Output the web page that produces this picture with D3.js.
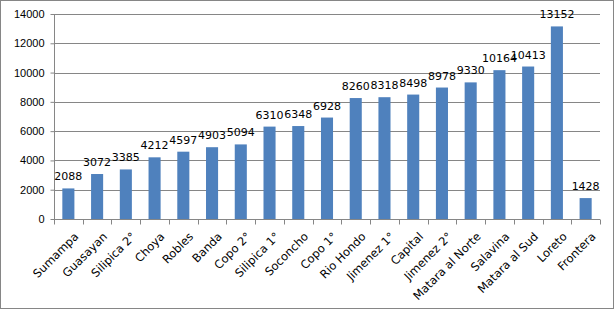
<!DOCTYPE html>
<meta charset="utf-8">
<style>
  body { margin: 0; background: #fff; }
  svg { font-family: "DejaVu Sans", Verdana, sans-serif; }
  .axis text { font-size: 11px; fill: #000; }
  .axis .domain, .axis line { stroke: #868686; }
</style>
<body>
<div id="chart"></div>
<script src="https://d3js.org/d3.v7.min.js"></script>
<script>
  var categories = ['Sumampa', 'Guasayan', 'Silipica 2°', 'Choya', 'Robles', 'Banda', 'Copo 2°',
    'Silipica 1°', 'Soconcho', 'Copo 1°', 'Rio Hondo', 'Jimenez 1°', 'Capital', 'Jimenez 2°',
    'Matara al Norte', 'Salavina', 'Matara al Sud', 'Loreto', 'Frontera'];
  var values = [2088, 3072, 3385, 4212, 4597, 4903, 5094, 6310, 6348, 6928, 8260, 8318, 8498,
    8978, 9330, 10164, 10413, 13152, 1428];
  var yTicks = [0, 2000, 4000, 6000, 8000, 10000, 12000, 14000];

  var W = 614, H = 309;
  var margin = { top: 14, right: 14, bottom: 90, left: 54 };
  var width = W - margin.left - margin.right;
  var height = H - margin.top - margin.bottom;

  var svg = d3.select("#chart").append("svg")
    .attr("width", W)
    .attr("height", H);

  // outer frame
  svg.append("rect")
    .attr("x", 0.5).attr("y", 0.5)
    .attr("width", W - 1).attr("height", H - 1)
    .attr("fill", "none")
    .attr("stroke", "#868686");

  var g = svg.append("g")
    .attr("transform", "translate(" + margin.left + "," + margin.top + ")");

  var x = d3.scaleBand()
    .domain(categories)
    .range([0, width])
    .paddingInner(0.58)
    .paddingOuter(0.29);

  var y = d3.scaleLinear()
    .domain([0, 14000])
    .range([height, 0]);

  // gridlines
  g.append("g")
    .selectAll("line")
    .data(yTicks.slice(1))
    .enter()
    .append("line")
    .attr("x1", 0)
    .attr("x2", width)
    .attr("y1", d => Math.round(y(d)) + 0.5)
    .attr("y2", d => Math.round(y(d)) + 0.5)
    .attr("stroke", "#868686");

  var yAxis = d3.axisLeft(y)
    .tickValues(yTicks)
    .tickSize(4)
    .tickPadding(6)
    .tickFormat(d3.format("d"));

  g.append("g")
    .attr("class", "axis")
    .attr("transform", "translate(0.5,0)")
    .call(yAxis)
    .call(s => s.select(".domain").attr("d", "M0,0V" + height));

  // bars
  g.selectAll(".bar")
    .data(values)
    .enter()
    .append("rect")
    .attr("class", "bar")
    .attr("x", (d, i) => x(categories[i]))
    .attr("width", x.bandwidth())
    .attr("y", d => y(d))
    .attr("height", d => height - y(d))
    .attr("fill", "#4F81BD");

  // value labels
  g.selectAll(".val")
    .data(values)
    .enter()
    .append("text")
    .attr("class", "val")
    .attr("x", (d, i) => x(categories[i]) + x.bandwidth() / 2)
    .attr("y", d => y(d) - 8)
    .attr("text-anchor", "middle")
    .style("font-size", "11px")
    .text(d => d);

  // x axis with ticks between categories
  var step = x.step();
  var xg = g.append("g")
    .attr("class", "axis")
    .attr("transform", "translate(0," + (Math.round(height) + 0.5) + ")");

  xg.append("line")
    .attr("x1", 0).attr("x2", width)
    .attr("stroke", "#868686");

  xg.selectAll(".tk")
    .data(d3.range(categories.length + 1))
    .enter()
    .append("line")
    .attr("x1", i => Math.round(i * step) + 0.5)
    .attr("x2", i => Math.round(i * step) + 0.5)
    .attr("y1", 0)
    .attr("y2", 5)
    .attr("stroke", "#868686");

  xg.selectAll(".lbl")
    .data(categories)
    .enter()
    .append("text")
    .attr("text-anchor", "end")
    .style("font-size", "11.5px")
    .attr("transform", d => "translate(" + (x(d) + x.bandwidth() / 2 + 5) + ",12) rotate(-45)")
    .attr("dy", "0.71em")
    .text(d => d);
</script>
</body>
